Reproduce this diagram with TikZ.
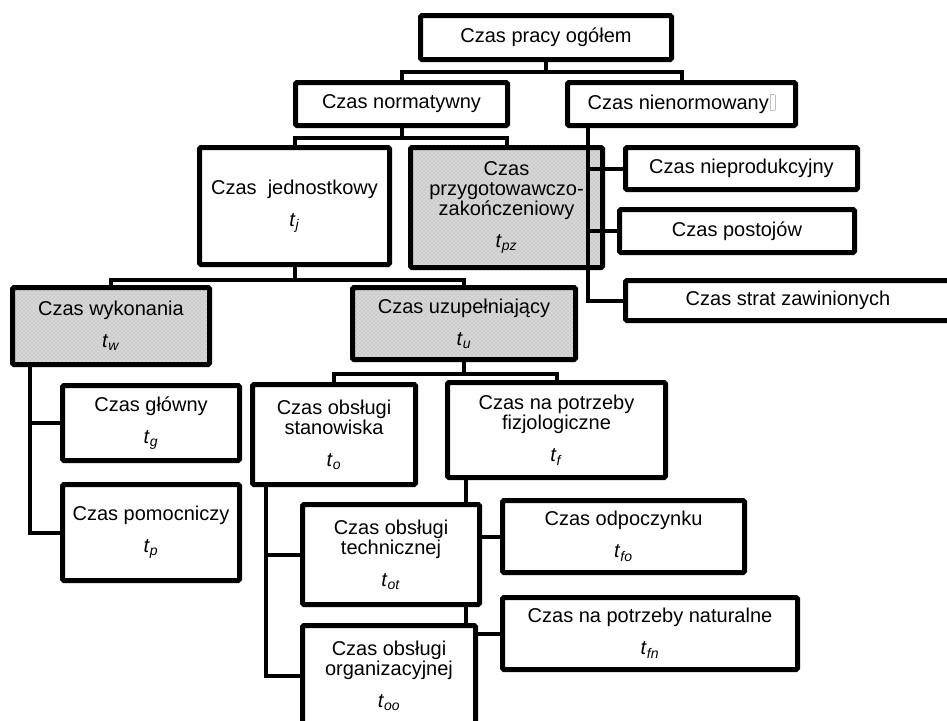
\documentclass[tikz,border=0pt]{standalone}
\usepackage{fontspec}
\setmainfont{Liberation Sans}
\usetikzlibrary{calc,patterns,backgrounds}
\newcommand{\tsym}[1]{\textit{t}\textsubscript{\textit{#1}}}
\newcommand{\gapbox}{\hspace{1pt}{\color{gray!50}\setlength{\fboxsep}{0pt}\setlength{\fboxrule}{0.4pt}\fbox{\rule{0pt}{11pt}\hspace{3pt}}}}

\begin{document}
\begin{tikzpicture}[x=0.75pt,y=-0.75pt,
  box/.style 2 args={draw,line width=3.75pt,rounded corners=1pt,fill=white,
    minimum width=#1*0.75pt,minimum height=#2*0.75pt,inner sep=0pt,
    align=center,font=\fontsize{15}{15}\selectfont},
  shaded/.style={preaction={fill=gray!40},pattern=crosshatch dots,pattern color=white},
  conn/.style={line width=3pt}]
  \useasboundingbox (0,0) rectangle (947,721);

  \node (ogolem) [box={251}{44}] at (546,37.5) {Czas pracy ogółem};
  \node (norm) [box={212}{43}] at (401.5,104) {Czas normatywny};
  \node (nienorm) [box={228}{43}] at (681.5,104) {Czas nienormowany\gapbox};
  \node (jedn) [box={190}{117}] at (294.5,206) {Czas\ \ jednostkowy\\[9pt]\tsym{j}};
  \node (przyg) [box={192}{120},shaded] at (506.5,207.5) {Czas\\przygotowawczo-\\zakończeniowy\\[9pt]\tsym{pz}};
  \node (nieprod) [box={232}{42}] at (741.5,168.5) {Czas nieprodukcyjny};
  \node (postoj) [box={235}{43}] at (737,231) {Czas postojów};
  \node (strat) [box={325}{40}] at (788,300.5) {Czas strat zawinionych};
  \node (wyk) [box={197}{77},shaded] at (111,326) {Czas wykonania\\[9pt]\tsym{w}};
  \node (uzup) [box={223}{72},shaded] at (464,323.5) {Czas uzupełniający\\[9pt]\tsym{u}};
  \node (glowny) [box={177}{75}] at (151,423) {Czas główny\\[9pt]\tsym{g}};
  \node (pomoc) [box={177}{96}] at (151,532.5) {Czas pomocniczy\\[9pt]\tsym{p}};
  \node (stan) [box={163}{100}] at (334,434.5) {Czas obsługi\\stanowiska\\[9pt]\tsym{o}};
  \node (fizjo) [box={218}{95}] at (556.5,430) {Czas na potrzeby\\fizjologiczne\\[9pt]\tsym{f}};
  \node (tot) [box={177}{100}] at (391,554.5) {Czas obsługi\\technicznej\\[9pt]\tsym{ot}};
  \node (odp) [box={242}{72}] at (623.5,536.5) {Czas odpoczynku\\[9pt]\tsym{fo}};
  \node (too) [box={173}{100}] at (389,675.5) {Czas obsługi\\organizacyjnej\\[9pt]\tsym{oo}};
  \node (nat) [box={295}{72}] at (650,633.5) {Czas na potrzeby naturalne\\[9pt]\tsym{fn}};

  \coordinate (nnbus) at ($(nienorm.south west)+(22.5,0)$);
  \coordinate (wbus) at ($(wyk.south west)+(19.5,0)$);
  \coordinate (sbus) at ($(stan.south west)+(15.5,0)$);
  \coordinate (fbus) at ($(fizjo.south west)+(20.5,0)$);

  \draw[conn] (ogolem.south) -- ++(0,10) -| (norm.north);
  \draw[conn] (ogolem.south) -- ++(0,10) -| (nienorm.north);
  \draw[conn] (norm.south) -- ++(0,10) -| (jedn.north);
  \draw[conn] (norm.south) -- ++(0,10) -| (przyg.north);
  \draw[conn] (jedn.south) -- ++(0,13) -| (wyk.north);
  \draw[conn] (jedn.south) -- ++(0,13) -| (uzup.north);
  \draw[conn] (uzup.south) -- ++(0,12) -| (stan.north);
  \draw[conn] (uzup.south) -- ++(0,12) -| (fizjo.north);
  \draw[conn] (nnbus) |- (nieprod.west);
  \draw[conn] (nnbus) |- (postoj.west);
  \draw[conn] (nnbus) |- (strat.west);
  \draw[conn] (wbus) |- (glowny.west);
  \draw[conn] (wbus) |- (pomoc.west);
  \draw[conn] (sbus) |- (tot.west);
  \draw[conn] (sbus) |- (too.west);
  \begin{scope}[on background layer]
    \draw[conn] (fbus) |- (odp.west);
    \draw[conn] (fbus) |- (nat.west);
  \end{scope}
\end{tikzpicture}
\end{document}
